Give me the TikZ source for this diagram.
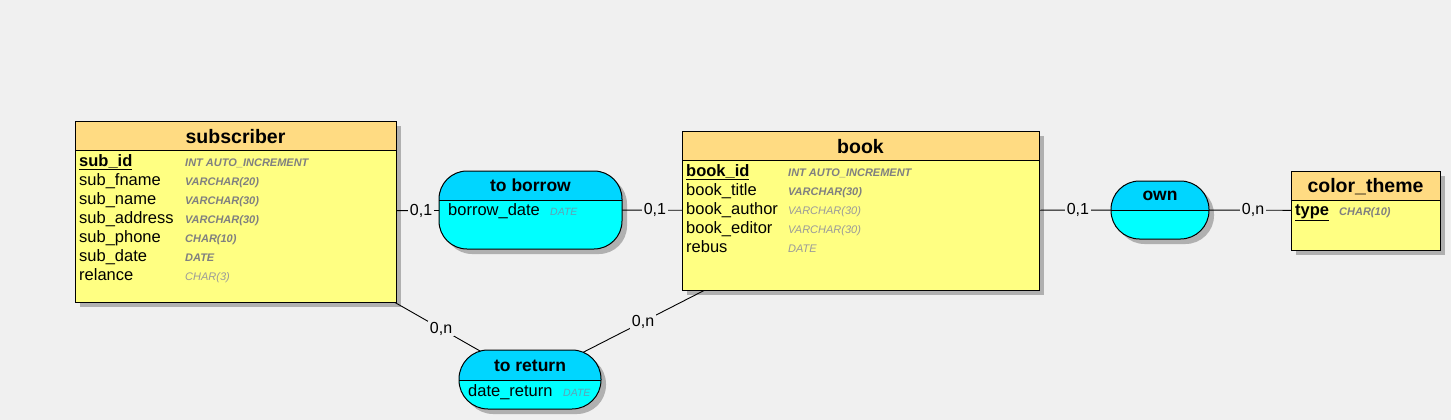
\documentclass[tikz,border=0pt]{standalone}
\usepackage{fontspec}
\setmainfont{Liberation Sans}
\definecolor{bgc}{HTML}{F0F0F0}
\definecolor{ehead}{HTML}{FFDB82}
\definecolor{ebody}{HTML}{FFFF82}
\definecolor{rhead}{HTML}{00D6FF}
\definecolor{rbody}{HTML}{00FFFF}
\definecolor{shad}{HTML}{B0B0B0}
\definecolor{typec}{HTML}{808080}
\definecolor{typel}{HTML}{9A9A9A}
\definecolor{rtypec}{HTML}{5FA3B5}
\pgfdeclarelayer{bg}
\pgfdeclarelayer{shadowlayer}
\pgfdeclarelayer{conn}
\pgfsetlayers{bg,shadowlayer,conn,main}
\tikzset{
  box/.style={draw, line width=1pt, inner sep=0pt, outer sep=0pt},
  ent/.style={box, rectangle, fill=ebody,
    path picture={\fill[ehead, sharp corners] (path picture bounding box.north west) rectangle ([yshift=-#1]path picture bounding box.north east);
      \draw[line width=1pt] ([yshift=-#1]path picture bounding box.north west) -- ([yshift=-#1]path picture bounding box.north east);}},
  rel/.style 2 args={box, rectangle, rounded corners=#2, fill=rbody,
    path picture={\fill[rhead, sharp corners] (path picture bounding box.north west) rectangle ([yshift=-#1]path picture bounding box.north east);
      \draw[line width=1pt, sharp corners] ([yshift=-#1]path picture bounding box.north west) -- ([yshift=-#1]path picture bounding box.north east);}},
  shadowfill/.style={fill=shad},
  title/.style={font=\fontsize{19.5}{22}\selectfont\bfseries, anchor=base, inner sep=0pt},
  rtitle/.style={font=\fontsize{17.5}{20}\selectfont\bfseries, anchor=base, inner sep=0pt},
  attr/.style={font=\fontsize{16.5}{19}\selectfont, anchor=base west, inner sep=0pt},
  keyattr/.style={font=\fontsize{16.5}{19}\selectfont\bfseries, anchor=base west, inner sep=0pt},
  typeb/.style={font=\fontsize{11}{13}\selectfont\bfseries\itshape, text=typec, anchor=base west, inner sep=0pt},
  typen/.style={font=\fontsize{11}{13}\selectfont\itshape, text=typel, anchor=base west, inner sep=0pt},
  rtype/.style={font=\fontsize{10.5}{12}\selectfont\itshape, text=rtypec, anchor=base west, inner sep=0pt},
  link/.style={draw=black, line width=0.9pt},
  card/.style={font=\fontsize{16}{18}\selectfont, fill=bgc, inner xsep=1.5pt, inner ysep=1pt}
}
\begin{document}
\begin{tikzpicture}[x=1pt, y=-1pt]
\begin{pgfonlayer}{bg}
\fill[bgc] (0,0) rectangle (1451,420);
\end{pgfonlayer}
\useasboundingbox (0,0) rectangle (1451,420);

% entities
\node[ent=29pt, minimum width=321pt, minimum height=181pt] (sub) at (235.5,211.5) {};
\node[ent=29pt, minimum width=357pt, minimum height=159pt] (book) at (860.5,210.5) {};
\node[ent=29pt, minimum width=149pt, minimum height=79pt] (color) at (1365.5,210.5) {};

% relations
\node[rel={29pt}{28pt}, minimum width=183pt, minimum height=78pt] (borrow) at (530.5,210) {};
\node[rel={29pt}{28.5pt}, minimum width=98pt, minimum height=58pt] (own) at (1160,210) {};
\node[rel={30pt}{29pt}, minimum width=142pt, minimum height=59pt] (ret) at (530,379.5) {};

% shadows
\begin{pgfonlayer}{shadowlayer}
\fill[shadowfill] ([shift={(5pt,-5pt)}]sub.south west) rectangle ([shift={(5pt,-5pt)}]sub.north east);
\fill[shadowfill] ([shift={(5pt,-5pt)}]book.south west) rectangle ([shift={(5pt,-5pt)}]book.north east);
\fill[shadowfill] ([shift={(5pt,-5pt)}]color.south west) rectangle ([shift={(5pt,-5pt)}]color.north east);
\fill[shadowfill, rounded corners=28pt] ([shift={(5pt,-5pt)}]borrow.south west) rectangle ([shift={(5pt,-5pt)}]borrow.north east);
\fill[shadowfill, rounded corners=28.5pt] ([shift={(5pt,-5pt)}]own.south west) rectangle ([shift={(5pt,-5pt)}]own.north east);
\fill[shadowfill, rounded corners=29pt] ([shift={(5pt,-5pt)}]ret.south west) rectangle ([shift={(5pt,-5pt)}]ret.north east);
\end{pgfonlayer}

% connectors
\begin{pgfonlayer}{conn}
\draw[link] (sub.center) -- node[card, pos=.629] (c1) {0,1} (borrow.center);
\draw[link] (borrow.center) -- node[card, pos=.377] (c2) {0,1} (book.center);
\draw[link] (book.center) -- node[card, pos=.726] (c3) {0,1} (own.center);
\draw[link] (own.center) -- node[card, pos=.453] (c4) {0,n} (color.center);
\draw[link] (sub.center) -- node[card, pos=.698] (c5) {0,n} (ret.center);
\draw[link] (book.center) -- node[card, pos=.658] (c6) {0,n} (ret.center);
\end{pgfonlayer}

% subscriber text
\node[title] (subT) at (235.5,143) {subscriber};
\node[keyattr] (subA1) at (79,166) {\underline{sub\_id}};
\node[attr] (subA2) at (79,185) {sub\_fname};
\node[attr] (subA3) at (79,204) {sub\_name};
\node[attr] (subA4) at (79,223) {sub\_address};
\node[attr] (subA5) at (79,242) {sub\_phone};
\node[attr] (subA6) at (79,261) {sub\_date};
\node[attr] (subA7) at (79,280) {relance};
\node[typeb] (subY1) at (185,166) {INT AUTO\_INCREMENT};
\node[typeb] (subY2) at (185,185) {VARCHAR(20)};
\node[typeb] (subY3) at (185,204) {VARCHAR(30)};
\node[typeb] (subY4) at (185,223) {VARCHAR(30)};
\node[typeb] (subY5) at (185,242) {CHAR(10)};
\node[typeb] (subY6) at (185,261) {DATE};
\node[typen] (subY7) at (185,280) {CHAR(3)};

% book text
\node[title] (bookT) at (860.5,153) {book};
\node[keyattr] (bookA1) at (686,176) {\underline{book\_id}};
\node[attr] (bookA2) at (686,195) {book\_title};
\node[attr] (bookA3) at (686,214) {book\_author};
\node[attr] (bookA4) at (686,233) {book\_editor};
\node[attr] (bookA5) at (686,252) {rebus};
\node[typeb] (bookY1) at (788,176) {INT AUTO\_INCREMENT};
\node[typeb] (bookY2) at (788,195) {VARCHAR(30)};
\node[typen] (bookY3) at (788,214) {VARCHAR(30)};
\node[typen] (bookY4) at (788,233) {VARCHAR(30)};
\node[typen] (bookY5) at (788,252) {DATE};

% color_theme text
\node[title] (colT) at (1365.5,192) {color\_theme};
\node[keyattr] (colA1) at (1295,215) {\underline{type}};
\node[typeb] (colY1) at (1339,215) {CHAR(10)};

% relation texts
\node[rtitle] (borT) at (530.5,191) {to borrow};
\node[attr] (borA1) at (448,215) {borrow\_date};
\node[rtype] (borY1) at (550,215) {DATE};
\node[rtitle] (ownT) at (1160,200) {own};
\node[rtitle] (retT) at (530,371) {to return};
\node[attr] (retA1) at (468,396) {date\_return};
\node[rtype] (retY1) at (563,396) {DATE};
\end{tikzpicture}
\end{document}
